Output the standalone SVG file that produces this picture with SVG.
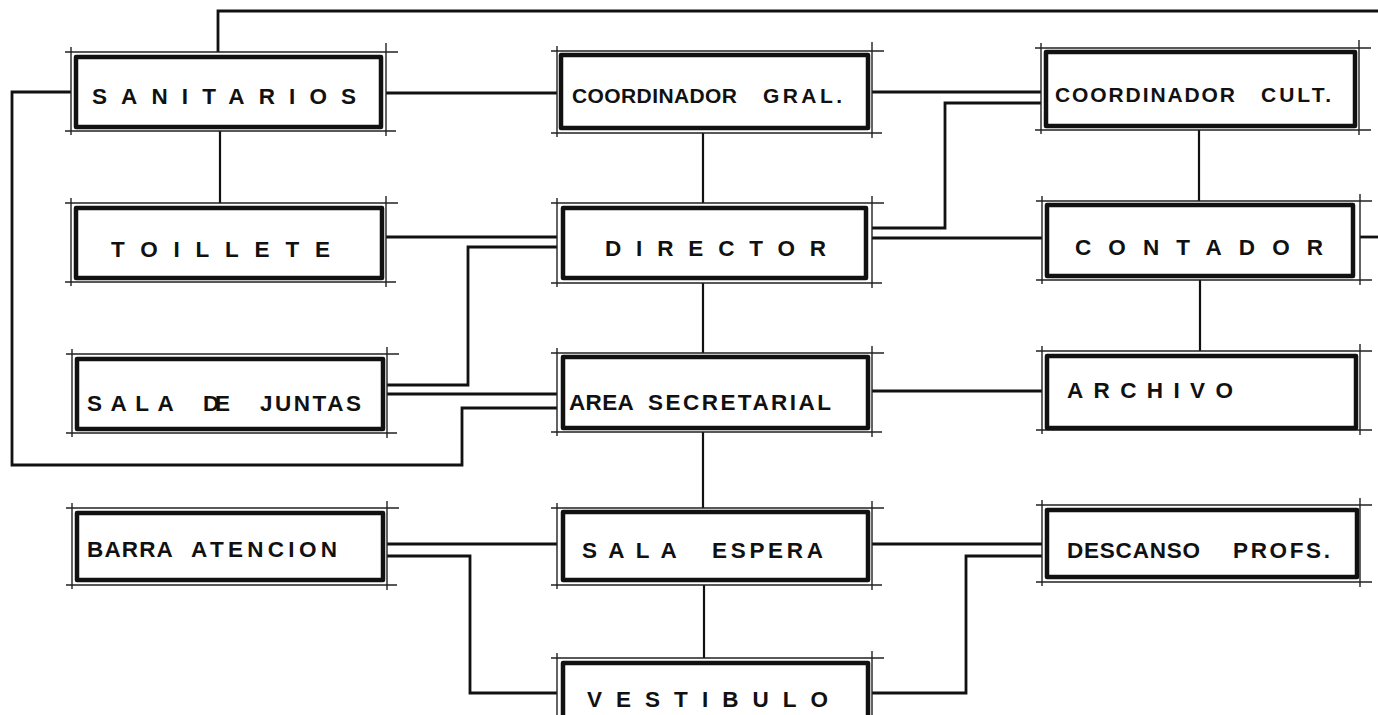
<svg xmlns="http://www.w3.org/2000/svg" width="1378" height="715" viewBox="0 0 1378 715">
<style>
.bg{fill:#fff}
.box{fill:#fff;stroke:#111;stroke-width:4.5;stroke-linejoin:round}
.frame{fill:none;stroke:#222;stroke-width:1.4}
.conn{fill:none;stroke:#111;stroke-width:2.8;stroke-linejoin:miter}
.v{stroke-width:2.2}
text{font-family:"Liberation Sans",Arial,sans-serif;font-weight:bold;font-size:22.5px;fill:#111}
.c{font-size:21px}
</style>
<rect class="bg" x="0" y="0" width="1378" height="715"/>
<g id="connectors">
<path class="conn" d="M218,52 V11 H1378"/>
<path class="conn" d="M71,92 H12 V465 H462 V408 H557"/>
<path class="conn" d="M386,93 H557"/>
<path class="conn" d="M872,92 H1041"/>
<path class="conn" d="M872,228 H945 V103 H1041"/>
<path class="conn" d="M872,238 H1042"/>
<path class="conn v" d="M220,131 V203"/>
<path class="conn v" d="M703,133 V203"/>
<path class="conn v" d="M1199,130 V201"/>
<path class="conn" d="M386,237 H557"/>
<path class="conn" d="M387,385 H468 V247 H557"/>
<path class="conn" d="M387,394 H557"/>
<path class="conn v" d="M703,283 V353"/>
<path class="conn" d="M1360,237 H1378"/>
<path class="conn v" d="M1200,280 V351"/>
<path class="conn" d="M872,391 H1042"/>
<path class="conn v" d="M703,432 V508"/>
<path class="conn" d="M387,544 H557"/>
<path class="conn" d="M387,556 H470 V693 H557"/>
<path class="conn" d="M872,544 H1042"/>
<path class="conn" d="M872,693 H966 V556 H1042"/>
<path class="conn v" d="M704,585 V658"/>
</g>
<g id="sanitarios">
<path class="frame" d="M65,52 H398 M65,131 H396 M71,47 V135 M386,43 V136"/>
<rect class="box" x="76" y="57" width="305" height="70"/>
<text x="92" y="104" textLength="264" lengthAdjust="spacing">SANITARIOS</text>
</g>
<g id="toillete">
<path class="frame" d="M65,203 H398 M65,282 H396 M71,198 V286 M386,196 V287"/>
<rect class="box" x="76" y="208" width="306" height="70"/>
<text x="111" y="257" textLength="219" lengthAdjust="spacing">TOILLETE</text>
</g>
<g id="sala-juntas">
<path class="frame" d="M66,354 H399 M66,433 H397 M72,349 V437 M387,347 V438"/>
<rect class="box" x="77" y="359" width="306" height="70"/>
<text y="411"><tspan x="87" textLength="86" lengthAdjust="spacing">SALA</tspan> <tspan x="203" textLength="27" lengthAdjust="spacing">DE</tspan> <tspan x="260" textLength="101" lengthAdjust="spacing">JUNTAS</tspan></text>
</g>
<g id="barra-atencion">
<path class="frame" d="M66,508 H399 M66,585 H397 M72,503 V589 M387,501 V590"/>
<rect class="box" x="77" y="513" width="306" height="67"/>
<text y="557"><tspan x="87" textLength="85" lengthAdjust="spacing">BARRA</tspan> <tspan x="191" textLength="146" lengthAdjust="spacing">ATENCION</tspan></text>
</g>
<g id="coordinador-gral">
<path class="frame" d="M551,51 H884 M551,133 H882 M557,46 V137 M872,42 V138"/>
<rect class="box" x="561" y="55" width="307" height="73"/>
<text class="c" y="103"><tspan x="572" textLength="165" lengthAdjust="spacing">COORDINADOR</tspan> <tspan x="763" textLength="79" lengthAdjust="spacing">GRAL.</tspan></text>
</g>
<g id="director">
<path class="frame" d="M551,203 H884 M551,283 H882 M557,198 V287 M872,196 V288"/>
<rect class="box" x="563" y="208" width="303" height="70"/>
<text x="605" y="256" textLength="221" lengthAdjust="spacing">DIRECTOR</text>
</g>
<g id="area-secretarial">
<path class="frame" d="M551,353 H884 M551,432 H882 M557,348 V436 M872,346 V437"/>
<rect class="box" x="563" y="357" width="305" height="71"/>
<text y="410"><tspan x="569" textLength="64" lengthAdjust="spacing">AREA</tspan> <tspan x="648" textLength="183" lengthAdjust="spacing">SECRETARIAL</tspan></text>
</g>
<g id="sala-espera">
<path class="frame" d="M551,508 H884 M551,585 H882 M557,503 V589 M872,501 V590"/>
<rect class="box" x="563" y="512" width="305" height="68"/>
<text y="558"><tspan x="582" textLength="94" lengthAdjust="spacing">SALA</tspan> <tspan x="712" textLength="111" lengthAdjust="spacing">ESPERA</tspan></text>
</g>
<g id="vestibulo">
<path class="frame" d="M551,658 H884 M557,653 V720 M872,651 V720"/>
<rect class="box" x="563" y="663" width="305" height="70"/>
<text x="587" y="707" textLength="241" lengthAdjust="spacing">VESTIBULO</text>
</g>
<g id="coordinador-cult">
<path class="frame" d="M1035,48 H1371 M1035,130 H1371 M1041,43 V134 M1359,40 V135"/>
<rect class="box" x="1046" y="52" width="309" height="74"/>
<text class="c" y="102"><tspan x="1055" textLength="180" lengthAdjust="spacing">COORDINADOR</tspan> <tspan x="1261" textLength="70" lengthAdjust="spacing">CULT.</tspan></text>
</g>
<g id="contador">
<path class="frame" d="M1036,201 H1372 M1036,280 H1372 M1042,196 V284 M1360,194 V285"/>
<rect class="box" x="1047" y="205" width="306" height="71"/>
<text x="1075" y="255" textLength="248" lengthAdjust="spacing">CONTADOR</text>
</g>
<g id="archivo">
<path class="frame" d="M1036,351 H1372 M1036,430 H1372 M1042,346 V434 M1360,344 V435"/>
<rect class="box" x="1047" y="356" width="309" height="72"/>
<text x="1067" y="398" textLength="166" lengthAdjust="spacing">ARCHIVO</text>
</g>
<g id="descanso-profs">
<path class="frame" d="M1036,505 H1372 M1036,582 H1372 M1042,500 V586 M1360,498 V587"/>
<rect class="box" x="1047" y="510" width="310" height="67"/>
<text y="558"><tspan x="1067" textLength="133" lengthAdjust="spacing">DESCANSO</tspan> <tspan x="1233" textLength="97" lengthAdjust="spacing">PROFS.</tspan></text>
</g>
</svg>
